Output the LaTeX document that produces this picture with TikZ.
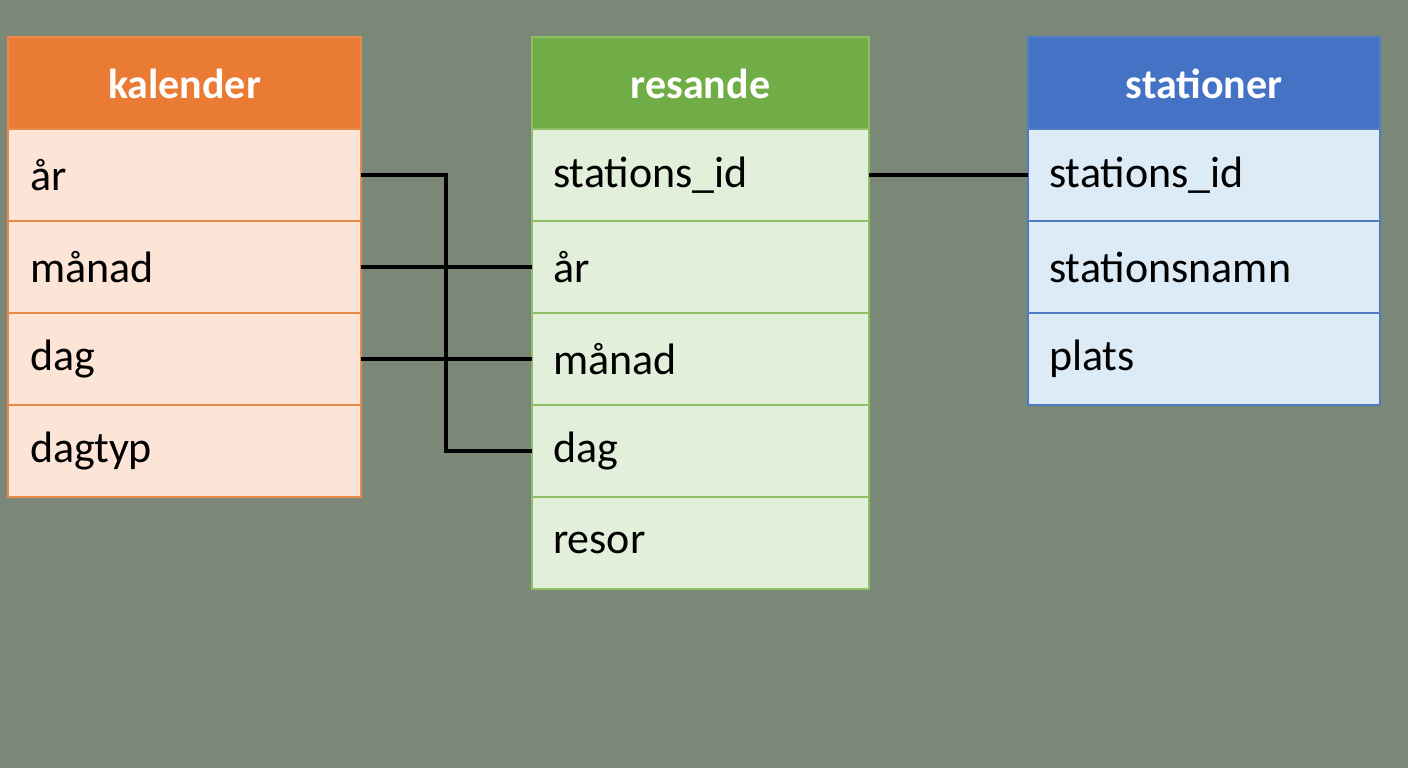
\documentclass[tikz,border=0pt]{standalone}
\usepackage{fontspec}
\setmainfont{Carlito}
\begin{document}
\begin{tikzpicture}[x=1pt,y=-1pt,
 hdr/.style={draw=#1!80!black,line width=1.5pt,fill=#1,text=white,font=\fontsize{42}{48}\selectfont\bfseries},
 cell/.style={line width=1.5pt,anchor=west,font=\fontsize{44}{50}\selectfont,text=black},
 lk/.style={line width=4pt,black}]
\definecolor{bg}{HTML}{7C8877}
\definecolor{oH}{HTML}{E97B34}\definecolor{oR}{HTML}{FCE4D6}\definecolor{oB}{HTML}{E98A4C}
\definecolor{gH}{HTML}{70AD47}\definecolor{gR}{HTML}{E2EFDA}\definecolor{gB}{HTML}{8CC063}
\definecolor{bH}{HTML}{4472C4}\definecolor{bR}{HTML}{DDEBF7}\definecolor{bB}{HTML}{4F7BC4}
\fill[bg] (0,0) rectangle (1408,768);
\useasboundingbox (0,0) rectangle (1408,768);
% kalender
\filldraw[fill=oH,draw=oB,line width=1.5pt] (8,37) rectangle (361,129);
\node[text=white,font=\fontsize{42}{48}\selectfont\bfseries] (kh) at (184.5,84) {kalender};
\foreach \t [count=\i from 0] in {år,månad,dag,dagtyp}{
 \filldraw[fill=oR,draw=oB,line width=1.5pt] (8,129+\i*92) rectangle (361,221+\i*92);
 \node[cell] (k\i) at (26,175+\i*92) {\t};}
% resande
\filldraw[fill=gH,draw=gB,line width=1.5pt] (532,37) rectangle (869,129);
\node[text=white,font=\fontsize{42}{48}\selectfont\bfseries] (rh) at (700.5,84) {resande};
\foreach \t [count=\i from 0] in {stations\_id,år,månad,dag,resor}{
 \filldraw[fill=gR,draw=gB,line width=1.5pt] (532,129+\i*92) rectangle (869,221+\i*92);
 \node[cell] (r\i) at (549,175+\i*92) {\t};}
% stationer
\filldraw[fill=bH,draw=bB,line width=1.5pt] (1028,37) rectangle (1380,129);
\node[text=white,font=\fontsize{42}{48}\selectfont\bfseries] (sh) at (1204,84) {stationer};
\foreach \t [count=\i from 0] in {stations\_id,stationsnamn,plats}{
 \filldraw[fill=bR,draw=bB,line width=1.5pt] (1028,129+\i*92) rectangle (1380,221+\i*92);
 \node[cell] (s\i) at (1045,175+\i*92) {\t};}
% connectors
\coordinate (kr0) at (361,175); \coordinate (kr1) at (361,267); \coordinate (kr2) at (361,359);
\coordinate (rl1) at (532,267); \coordinate (rl2) at (532,359); \coordinate (rl3) at (532,451);
\coordinate (rr0) at (869,175); \coordinate (sl0) at (1028,175);
\draw[lk] (kr0) -- (446,175) -- (446,451) -- (rl3);
\draw[lk] (kr1) -- (rl1);
\draw[lk] (kr2) -- (rl2);
\draw[lk] (rr0) -- (sl0);
\end{tikzpicture}
\end{document}
